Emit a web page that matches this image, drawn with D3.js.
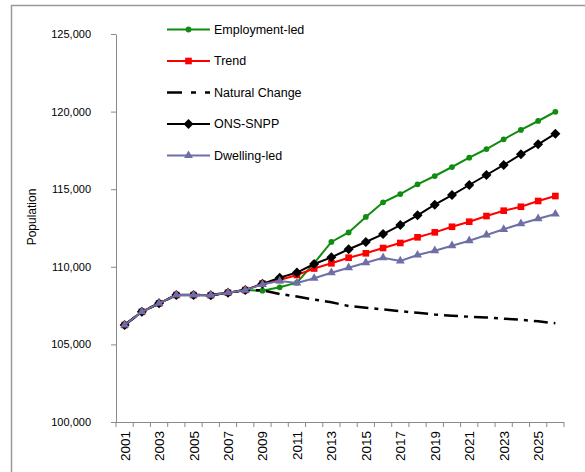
<!DOCTYPE html>
<html>
<head>
<meta charset="utf-8">
<script src="https://cdn.jsdelivr.net/npm/d3@7"></script>
<style>
    body { margin: 0; background: #fff; }
    text { font-family: "Liberation Sans", Arial, sans-serif; fill: #000; }
</style>
</head>
<body>
<svg id="chart" width="585" height="472"></svg>
<script>
// categories
var years = d3.range(2001, 2027);

// shared history 2001-2008
var pastValues = [106250, 107100, 107650, 108180, 108180, 108170, 108330, 108500];

// projections 2009-2026
var employmentLed = pastValues.concat([108460, 108680, 108975, 110240, 111600, 112210, 113210, 114155, 114690,
    115315, 115850, 116430, 117030, 117590, 118215, 118815, 119395, 119990]);
var trend = pastValues.concat([108920, 109150, 109470, 109890, 110225, 110585, 110870, 111210, 111535,
    111900, 112220, 112580, 112905, 113270, 113615, 113870, 114240, 114560]);
var naturalChange = pastValues.concat([108480, 108250, 108085, 107890, 107710, 107475, 107360, 107250, 107140,
    107040, 106925, 106850, 106785, 106735, 106655, 106585, 106490, 106360]);
var onsSnpp = pastValues.concat([108900, 109300, 109630, 110180, 110610, 111130, 111600, 112110, 112690,
    113320, 114000, 114625, 115270, 115915, 116560, 117250, 117890, 118575]);
var dwellingLed = pastValues.concat([108870, 109085, 108955, 109260, 109620, 109940, 110265, 110585, 110375,
    110760, 111035, 111360, 111680, 112050, 112415, 112775, 113100, 113400]);

var yTicks = [100000, 105000, 110000, 115000, 120000, 125000];
var seriesNames = ["Employment-led", "Trend", "Natural Change", "ONS-SNPP", "Dwelling-led"];

var series = [
    {name: seriesNames[0], values: employmentLed, color: "#108c10", marker: "circle"},
    {name: seriesNames[1], values: trend, color: "#ff0000", marker: "square"},
    {name: seriesNames[2], values: naturalChange, color: "#000000", marker: null, dash: "14,6,4,6"},
    {name: seriesNames[3], values: onsSnpp, color: "#000000", marker: "diamond"},
    {name: seriesNames[4], values: dwellingLed, color: "#6f6fa8", marker: "triangle"}
];

var svg = d3.select("#chart");
var plotLeft = 116, plotRight = 564, plotTop = 34, plotBottom = 422;
var axisColor = "#8a8a8a";

// outer frame
svg.append("rect")
    .attr("x", 11.5).attr("y", 5.5)
    .attr("width", 600).attr("height", 500)
    .attr("fill", "none")
    .attr("stroke", "#999")
    .attr("stroke-width", 1.5);

var x = d3.scaleBand().domain(years).range([plotLeft, plotRight]);
var y = d3.scaleLinear().domain([100000, 125000]).range([plotBottom, plotTop]);

function cx(i) {
    return x(years[i]) + x.bandwidth() / 2;
}

// y axis
var yAxis = svg.append("g")
    .attr("transform", "translate(" + plotLeft + ",0)")
    .call(d3.axisLeft(y).tickValues(yTicks).tickFormat(d3.format(",")).tickSize(5).tickSizeOuter(0));
yAxis.select(".domain").attr("stroke", axisColor);
yAxis.selectAll(".tick line").attr("stroke", axisColor);
yAxis.selectAll(".tick text")
    .attr("x", -25)
    .style("font-size", "11px")
    .style("font-family", "Liberation Sans, Arial, sans-serif");

// x axis: line plus ticks on category edges
var xAxis = svg.append("g");
xAxis.append("line")
    .attr("x1", plotLeft).attr("x2", plotRight)
    .attr("y1", plotBottom + 0.5).attr("y2", plotBottom + 0.5)
    .attr("stroke", axisColor);
xAxis.selectAll("line.tk")
    .data(years.concat([null]))
    .enter().append("line")
    .attr("class", "tk")
    .attr("x1", function (d) { return d === null ? plotRight : x(d); })
    .attr("x2", function (d) { return d === null ? plotRight : x(d); })
    .attr("y1", plotBottom)
    .attr("y2", plotBottom + 5)
    .attr("stroke", axisColor);
xAxis.selectAll("text")
    .data(years.filter(function (d) { return d % 2 === 1; }))
    .enter().append("text")
    .attr("transform", function (d) {
        return "translate(" + (x(d) + x.bandwidth() / 2 + 5) + "," + (plotBottom + 9) + ") rotate(-90)";
    })
    .attr("text-anchor", "end")
    .style("font-size", "13.5px")
    .text(function (d) { return d; });

// y axis title
svg.append("text")
    .attr("transform", "translate(36,217) rotate(-90)")
    .attr("text-anchor", "middle")
    .style("font-size", "12px")
    .text("Population");

function markerPath(type) {
    if (type === "circle") return d3.symbol(d3.symbolCircle, 26)();
    if (type === "square") return d3.symbol(d3.symbolSquare, 44)();
    if (type === "triangle") return d3.symbol(d3.symbolTriangle, 34)();
    if (type === "diamond") return "M0,-5L5,0L0,5L-5,0Z";
    return null;
}

var line = d3.line()
    .x(function (d, i) { return cx(i); })
    .y(function (d) { return y(d); });

series.forEach(function (s) {
    var g = svg.append("g");
    g.append("path")
        .datum(s.values)
        .attr("d", line)
        .attr("fill", "none")
        .attr("stroke", s.color)
        .attr("stroke-width", s.dash ? 2.5 : 2)
        .attr("stroke-dasharray", s.dash || null);
    if (s.marker) {
        g.selectAll("path.mk")
            .data(s.values)
            .enter().append("path")
            .attr("class", "mk")
            .attr("d", markerPath(s.marker))
            .attr("transform", function (d, i) { return "translate(" + cx(i) + "," + y(d) + ")"; })
            .attr("fill", s.color);
    }
});

// legend
var legend = svg.append("g");
var legendY = [29.5, 61, 92.5, 124, 155.5];
series.forEach(function (s, i) {
    var row = legend.append("g").attr("transform", "translate(167," + legendY[i] + ")");
    row.append("line")
        .attr("x1", 0).attr("x2", 43)
        .attr("stroke", s.color)
        .attr("stroke-width", s.dash ? 2.5 : 2)
        .attr("stroke-dasharray", s.dash ? "15,9,5,9" : null);
    if (s.marker) {
        row.append("path")
            .attr("d", markerPath(s.marker))
            .attr("transform", "translate(21.5,0)")
            .attr("fill", s.color);
    }
    row.append("text")
        .attr("x", 47)
        .attr("dy", "0.35em")
        .style("font-size", "12.5px")
        .text(s.name);
});
</script>
</body>
</html>
